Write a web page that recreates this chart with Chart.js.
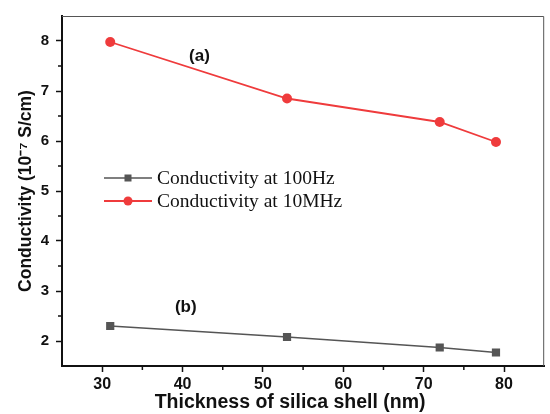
<!DOCTYPE html>
<html>
<head>
<meta charset="utf-8">
<script src="https://cdn.jsdelivr.net/npm/chart.js@4"></script>
<style>
  html, body { margin: 0; padding: 0; background: #fff; }
  #wrap { width: 550px; height: 414px; }
</style>
</head>
<body>
<div id="wrap"><canvas id="condchart" width="550" height="414"></canvas></div>
<script>
// silica shell thickness (nm) and conductivity (x10^-7 S/cm)
const thickness = [31, 53, 72, 79];
const cond100Hz = [2.30, 2.08, 1.87, 1.77];
const cond10MHz = [7.98, 6.85, 6.38, 5.98];
const seriesNames = ['Conductivity at 100Hz', 'Conductivity at 10MHz'];
const xTicks = [30, 40, 50, 60, 70, 80];
const yTicks = [2, 3, 4, 5, 6, 7, 8];
const xTitle = 'Thickness of silica shell (nm)';

const RED = '#ef3b3c';
const GREY = '#555555';
const SANS = 'Liberation Sans, Arial, sans-serif';

const toPoints = ys => thickness.map((x, i) => ({ x: x, y: ys[i] }));

// short ticks halfway between the labelled ones, plus the thin top/right frame
const minorTicks = {
  id: 'minorTicks',
  afterDraw(chart) {
    const { ctx, chartArea, scales } = chart;
    ctx.save();
    ctx.strokeStyle = '#111';
    ctx.lineWidth = 1.5;
    const xs = scales.x;
    const xStep = xTicks[1] - xTicks[0];
    xTicks.concat([xTicks[0] - xStep]).forEach(v => {
      const m = v + xStep / 2;
      if (m <= xs.min || m >= xs.max) return;
      const px = xs.getPixelForValue(m);
      ctx.beginPath();
      ctx.moveTo(px, chartArea.bottom);
      ctx.lineTo(px, chartArea.bottom + 4);
      ctx.stroke();
    });
    const ys = scales.y;
    const yStep = yTicks[1] - yTicks[0];
    yTicks.concat([yTicks[0] - yStep]).forEach(v => {
      const m = v + yStep / 2;
      if (m <= ys.min || m >= ys.max) return;
      const py = ys.getPixelForValue(m);
      ctx.beginPath();
      ctx.moveTo(chartArea.left, py);
      ctx.lineTo(chartArea.left - 4, py);
      ctx.stroke();
    });
    ctx.strokeStyle = '#555';
    ctx.lineWidth = 1;
    ctx.beginPath();
    ctx.moveTo(chartArea.left, chartArea.top + 0.5);
    ctx.lineTo(chartArea.right - 0.5, chartArea.top + 0.5);
    ctx.lineTo(chartArea.right - 0.5, chartArea.bottom);
    ctx.stroke();
    ctx.restore();
  }
};

// x axis title sits a little left of the plot centre
const bottomTitle = {
  id: 'bottomTitle',
  afterDraw(chart) {
    const { ctx, chartArea } = chart;
    ctx.save();
    ctx.font = 'bold 19.5px ' + SANS;
    ctx.fillStyle = '#111';
    ctx.textAlign = 'center';
    ctx.textBaseline = 'middle';
    ctx.fillText(xTitle, (chartArea.left + chartArea.right) / 2 - 13, chart.height - 11);
    ctx.restore();
  }
};

// (a) / (b) curve labels
const panelTags = {
  id: 'panelTags',
  afterDatasetsDraw(chart) {
    const { ctx, scales } = chart;
    const tags = [['(a)', 42.1, 7.7], ['(b)', 40.4, 2.68]];
    ctx.save();
    ctx.font = 'bold 17px ' + SANS;
    ctx.fillStyle = '#111';
    ctx.textAlign = 'center';
    ctx.textBaseline = 'middle';
    tags.forEach(t => ctx.fillText(t[0], scales.x.getPixelForValue(t[1]), scales.y.getPixelForValue(t[2])));
    ctx.restore();
  }
};

// legend with line + marker samples
const lineLegend = {
  id: 'lineLegend',
  afterDraw(chart) {
    const { ctx, chartArea } = chart;
    const x0 = chartArea.left + 42;
    const y0 = chartArea.top + 162;
    ctx.save();
    ctx.font = '19.5px Liberation Serif, Times New Roman, serif';
    ctx.textBaseline = 'middle';
    chart.data.datasets.forEach((ds, i) => {
      const y = y0 + i * 23;
      ctx.strokeStyle = ds.borderColor;
      ctx.lineWidth = ds.borderWidth;
      ctx.beginPath();
      ctx.moveTo(x0, y);
      ctx.lineTo(x0 + 48, y);
      ctx.stroke();
      ctx.fillStyle = ds.pointBackgroundColor;
      if (ds.pointStyle === 'rect') {
        ctx.fillRect(x0 + 24 - 3.5, y - 3.5, 7, 7);
      } else {
        ctx.beginPath();
        ctx.arc(x0 + 24, y, 4.5, 0, Math.PI * 2);
        ctx.fill();
      }
      ctx.fillStyle = '#111';
      ctx.fillText(ds.label, x0 + 53, y + 1);
    });
    ctx.restore();
  }
};

const ctx = document.getElementById('condchart');
new Chart(ctx, {
  type: 'line',
  data: {
    datasets: [
      {
        label: seriesNames[0],
        data: toPoints(cond100Hz),
        borderColor: GREY,
        borderWidth: 1.6,
        pointStyle: 'rect',
        pointRadius: 5.8,
        pointBackgroundColor: GREY,
        pointBorderColor: GREY,
        pointBorderWidth: 0
      },
      {
        label: seriesNames[1],
        data: toPoints(cond10MHz),
        borderColor: RED,
        borderWidth: 1.8,
        pointStyle: 'circle',
        pointRadius: 5,
        pointBackgroundColor: RED,
        pointBorderColor: RED,
        pointBorderWidth: 0
      }
    ]
  },
  options: {
    responsive: false,
    animation: false,
    devicePixelRatio: 1,
    layout: { padding: { left: 12, right: 3, top: 14, bottom: 0 } },
    plugins: {
      legend: { display: false },
      tooltip: { enabled: false }
    },
    scales: {
      x: {
        type: 'linear',
        min: 25,
        max: 85,
        afterBuildTicks: s => { s.ticks = xTicks.map(v => ({ value: v })); },
        afterFit: s => { s.height = 48; },
        border: { color: '#111', width: 2 },
        grid: { drawOnChartArea: false, tickLength: 6, tickColor: '#111', tickWidth: 1.5 },
        ticks: { font: { family: SANS, size: 16, weight: 'bold' }, color: '#111', padding: 3, maxRotation: 0 },
        title: { display: false }
      },
      y: {
        min: 1.5,
        max: 8.5,
        afterBuildTicks: s => { s.ticks = yTicks.map(v => ({ value: v })); },
        afterFit: s => { s.width = 50; },
        border: { color: '#111', width: 2 },
        grid: { drawOnChartArea: false, tickLength: 6, tickColor: '#111', tickWidth: 1.5 },
        ticks: { font: { family: SANS, size: 15, weight: 'bold' }, color: '#111', padding: 7 },
        title: {
          display: true,
          text: 'Conductivity (10⁻⁷ S/cm)',
          font: { family: SANS, size: 17.5, weight: 'bold' },
          color: '#111',
          padding: { top: 4, bottom: 0 }
        }
      }
    }
  },
  plugins: [minorTicks, bottomTitle, panelTags, lineLegend]
});
</script>
</body>
</html>
